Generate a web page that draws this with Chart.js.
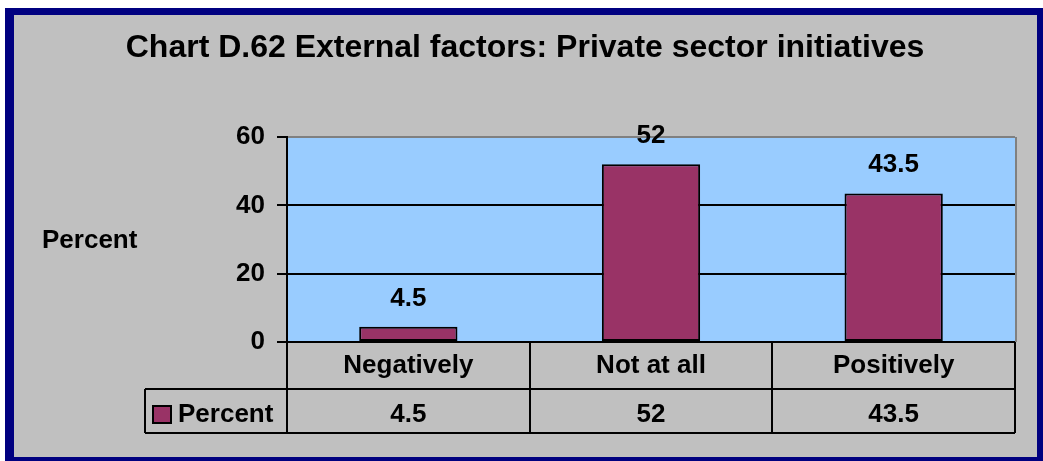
<!DOCTYPE html>
<html>
<head>
<meta charset="utf-8">
<script src="https://cdn.jsdelivr.net/npm/chart.js@4.4.1/dist/chart.umd.min.js"></script>
<style>
  html, body { margin: 0; padding: 0; background: #ffffff; }
  #wrap { position: relative; width: 1043px; height: 461px; }
  canvas { display: block; }
</style>
</head>
<body>
<div id="wrap"><canvas id="c" width="1043" height="461"></canvas></div>
<script>
const chartTitle = 'Chart D.62 External factors: Private sector initiatives';
const categories = ['Negatively', 'Not at all', 'Positively'];
const seriesName = 'Percent';
const percentValues = [4.5, 52, 43.5];
const yAxisTitle = 'Percent';
const yMin = 0, yMax = 60, yStep = 20;

const FONT = '"Liberation Sans", Arial, "DejaVu Sans", sans-serif';
const BAR_COLOR = '#993366';

const framePlugin = {
  id: 'frame',
  beforeDraw(chart) {
    const ctx = chart.ctx;
    const a = chart.chartArea;
    ctx.save();
    ctx.fillStyle = '#ffffff';
    ctx.fillRect(0, 0, chart.width, chart.height);
    ctx.fillStyle = '#000080';
    ctx.fillRect(5, 8, chart.width - 5, chart.height - 8);
    ctx.fillStyle = '#c0c0c0';
    ctx.fillRect(14, 15, 1023, 442);
    // plot background
    ctx.fillStyle = '#99ccff';
    ctx.fillRect(a.left, a.top, a.right - a.left, a.bottom - a.top);
    // right border of plot area
    ctx.strokeStyle = '#808080';
    ctx.lineWidth = 2;
    ctx.beginPath();
    ctx.moveTo(a.right + 1, a.top);
    ctx.lineTo(a.right + 1, a.bottom);
    ctx.stroke();
    // title
    ctx.fillStyle = '#000000';
    ctx.font = 'bold 32px ' + FONT;
    ctx.textAlign = 'center';
    ctx.textBaseline = 'alphabetic';
    ctx.fillText(chartTitle, 525, 57);
    // y axis title
    ctx.font = 'bold 26px ' + FONT;
    ctx.textAlign = 'left';
    ctx.fillText(yAxisTitle, 42, 248);
    ctx.restore();
  },
  afterDatasetsDraw(chart) {
    const ctx = chart.ctx;
    const meta = chart.getDatasetMeta(0);
    ctx.save();
    ctx.fillStyle = '#000000';
    ctx.font = 'bold 26px ' + FONT;
    ctx.textAlign = 'center';
    ctx.textBaseline = 'alphabetic';
    meta.data.forEach((bar, i) => {
      ctx.fillText(String(percentValues[i]), bar.x, bar.y - 21);
    });
    ctx.restore();
  },
  afterDraw(chart) {
    const ctx = chart.ctx;
    const a = chart.chartArea;
    const xs = chart.scales.x;
    const n = categories.length;
    const colW = (a.right - a.left) / n;
    const r0 = a.bottom, r1 = a.bottom + 47, r2 = a.bottom + 91;
    const legendLeft = 145;
    ctx.save();
    ctx.strokeStyle = '#000000';
    ctx.lineWidth = 2;
    ctx.beginPath();
    // horizontal lines
    ctx.moveTo(a.left, r0); ctx.lineTo(a.right, r0);
    ctx.moveTo(legendLeft, r1); ctx.lineTo(a.right, r1);
    ctx.moveTo(legendLeft, r2); ctx.lineTo(a.right, r2);
    // vertical lines
    ctx.moveTo(legendLeft, r1); ctx.lineTo(legendLeft, r2);
    for (let i = 0; i <= n; i++) {
      const x = Math.round(a.left + i * colW);
      ctx.moveTo(x, r0); ctx.lineTo(x, r2);
    }
    ctx.stroke();
    // texts
    ctx.fillStyle = '#000000';
    ctx.font = 'bold 26px ' + FONT;
    ctx.textAlign = 'center';
    ctx.textBaseline = 'alphabetic';
    categories.forEach((c, i) => {
      const cx = xs.getPixelForValue(i);
      ctx.fillText(c, cx, r0 + 31);
      ctx.fillText(String(percentValues[i]), cx, r1 + 33);
    });
    // legend key
    ctx.fillStyle = BAR_COLOR;
    ctx.fillRect(153, 406, 18, 17);
    ctx.strokeRect(153, 406, 18, 17);
    ctx.fillStyle = '#000000';
    ctx.textAlign = 'left';
    ctx.fillText(seriesName, 178, r1 + 33);
    ctx.restore();
  }
};

new Chart(document.getElementById('c'), {
  type: 'bar',
  data: {
    labels: categories,
    datasets: [{
      label: seriesName,
      data: percentValues,
      backgroundColor: BAR_COLOR,
      borderColor: '#000000',
      borderWidth: 2,
      borderSkipped: false,
      categoryPercentage: 1,
      barPercentage: 0.405
    }]
  },
  options: {
    responsive: false,
    animation: false,
    devicePixelRatio: 1,
    layout: { padding: { left: 0, top: 137, right: 28, bottom: 119 } },
    plugins: {
      legend: { display: false },
      tooltip: { enabled: false },
      title: { display: false }
    },
    scales: {
      x: { display: false },
      y: {
        min: yMin, max: yMax,
        afterFit(scale) { scale.width = 287; },
        ticks: {
          stepSize: yStep,
          color: '#000000',
          padding: 12,
          font: { family: FONT, size: 26, weight: 'bold' }
        },
        grid: {
          color: (ctx) => (ctx.tick && ctx.tick.value === yMax) ? '#808080' : '#000000',
          lineWidth: 2,
          drawTicks: true,
          tickLength: 10,
          tickColor: '#000000'
        },
        border: { display: true, color: '#000000', width: 2 }
      }
    }
  },
  plugins: [framePlugin]
});
</script>
</body>
</html>
